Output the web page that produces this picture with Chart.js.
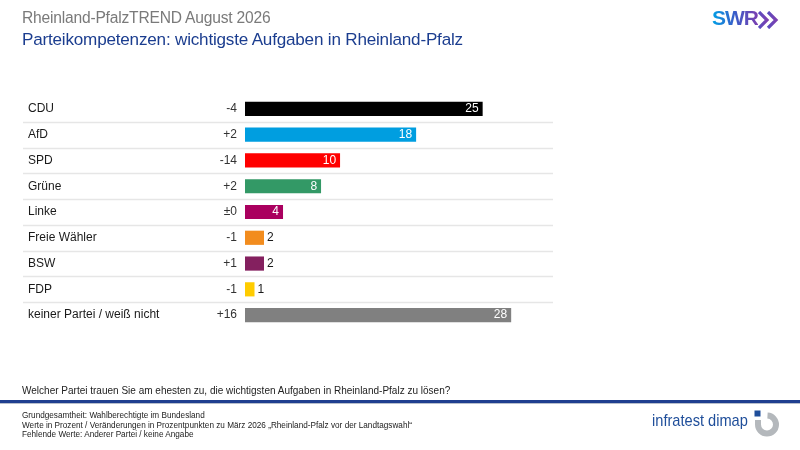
<!DOCTYPE html>
<html lang="de">
<head>
<meta charset="utf-8">
<title>Rheinland-PfalzTREND August 2026</title>
<script src="https://cdn.jsdelivr.net/npm/chart.js@4.4.1/dist/chart.umd.min.js"></script>
<style>
  body { margin: 0; background: #fff; font-family: "Liberation Sans", Arial, sans-serif; }
  #wrap { position: relative; width: 800px; height: 450px; overflow: hidden; }
  #chart { position: absolute; left: 0; top: 0; }
  .abs { position: absolute; white-space: nowrap; }
  .narrow { transform-origin: left center; }
  #title { left: 22px; top: 9px; font-size: 15.6px; color: #7a7a7a; letter-spacing: -0.2px; }
  #subtitle { left: 22px; top: 30px; font-size: 17.1px; color: #1b3d8f; letter-spacing: -0.2px; }
  #question { left: 22px; top: 384px; font-size: 11px; color: #222; transform: scaleX(0.91); }
  #rule { left: 0; top: 400px; width: 800px; height: 3px; background: #1f3f8f; border-bottom: 1px solid #b8bfcc; }
  .note { left: 22px; font-size: 9px; color: #222; transform: scaleX(0.91); }
  #swr { left: 712px; top: 6px; font-size: 21px; font-weight: bold; letter-spacing: -1px;
         background: linear-gradient(90deg, #00a0e6, #3a5cc8 50%, #7b3fb0); -webkit-background-clip: text; background-clip: text; color: transparent; }
  #chev { left: 758px; top: 11px; }
  #infra { left: 652px; top: 411px; font-size: 17px; color: #1f4e9a; transform: scaleX(0.86); }
  #infraIcon { left: 745px; top: 405px; }
</style>
</head>
<body>
<div id="wrap">
  <canvas id="chart" width="800" height="450"></canvas>
  <div class="abs" id="title">Rheinland-PfalzTREND August 2026</div>
  <div class="abs" id="subtitle">Parteikompetenzen: wichtigste Aufgaben in Rheinland-Pfalz</div>
  <div class="abs narrow" id="question">Welcher Partei trauen Sie am ehesten zu, die wichtigsten Aufgaben in Rheinland-Pfalz zu lösen?</div>
  <div class="abs" id="rule"></div>
  <div class="abs note narrow" style="top:410px">Grundgesamtheit: Wahlberechtigte im Bundesland</div>
  <div class="abs note narrow" style="top:420px">Werte in Prozent / Veränderungen in Prozentpunkten zu März 2026 „Rheinland-Pfalz vor der Landtagswahl“</div>
  <div class="abs note narrow" style="top:429px">Fehlende Werte: Anderer Partei / keine Angabe</div>
  <div class="abs" id="swr">SWR</div>
  <svg class="abs" id="chev" width="22" height="18" viewBox="0 0 22 18">
    <defs><linearGradient id="cg" x1="0" x2="1"><stop offset="0" stop-color="#5a4cc0"/><stop offset="1" stop-color="#7b3fb0"/></linearGradient></defs>
    <path d="M1 1 L9 9 L1 17" fill="none" stroke="url(#cg)" stroke-width="3.2"/>
    <path d="M10 1 L18 9 L10 17" fill="none" stroke="url(#cg)" stroke-width="3.2"/>
  </svg>
  <div class="abs narrow" id="infra">infratest dimap</div>
  <svg class="abs" id="infraIcon" width="40" height="36" viewBox="0 0 40 36">
    <path d="M 22.5 10.5 A 9 9 0 1 1 13 19.5 L 13 15" fill="none" stroke="#b4b8bc" stroke-width="6"/>
    <rect x="9.5" y="5.5" width="6" height="6" fill="#1f4e9a"/>
  </svg>
</div>
<script>
// Daten
const parteien = ['CDU', 'AfD', 'SPD', 'Grüne', 'Linke', 'Freie Wähler', 'BSW', 'FDP', 'keiner Partei / weiß nicht'];
const werte = [25, 18, 10, 8, 4, 2, 2, 1, 28];
const veraenderung = ['-4', '+2', '-14', '+2', '±0', '-1', '+1', '-1', '+16'];
const farben = ['#000000', '#009ee0', '#ff0000', '#339966', '#aa005f', '#f28c1e', '#84205f', '#ffcc00', '#808080'];

// Beschriftungen: Parteiname, Veränderung, Wert und Trennlinien
const rowLabels = {
    id: 'rowLabels',
    afterDatasetsDraw(chart) {
        const ctx = chart.ctx;
        const yScale = chart.scales.y;
        const meta = chart.getDatasetMeta(0);
        ctx.save();

        // Trennlinien zwischen den Zeilen
        ctx.strokeStyle = '#e6e6e6';
        ctx.lineWidth = 1.5;
        for (let i = 0; i < parteien.length - 1; i++) {
            const y = Math.round((yScale.getPixelForTick(i) + yScale.getPixelForTick(i + 1)) / 2) + 0.5;
            ctx.beginPath();
            ctx.moveTo(23, y);
            ctx.lineTo(553, y);
            ctx.stroke();
        }

        ctx.textBaseline = 'middle';
        ctx.font = '12px "Liberation Sans", Arial, sans-serif';
        parteien.forEach((name, i) => {
            const y = yScale.getPixelForTick(i);
            ctx.fillStyle = '#1a1a1a';
            ctx.textAlign = 'left';
            ctx.fillText(name, 28, y);

            ctx.fillStyle = '#333';
            ctx.textAlign = 'right';
            ctx.fillText(veraenderung[i], 237, y);

            const bar = meta.data[i];
            if (werte[i] >= 4) {
                ctx.fillStyle = '#ffffff';
                ctx.textAlign = 'right';
                ctx.fillText(werte[i], bar.x - 4, y);
            } else {
                ctx.fillStyle = '#1a1a1a';
                ctx.textAlign = 'left';
                ctx.fillText(werte[i], bar.x + 3, y);
            }
        });
        ctx.restore();
    }
};

new Chart(document.getElementById('chart'), {
    type: 'bar',
    data: {
        labels: parteien,
        datasets: [{
            data: werte,
            backgroundColor: farben,
            borderWidth: 0,
            barPercentage: 0.55,
            categoryPercentage: 1
        }]
    },
    options: {
        indexAxis: 'y',
        responsive: false,
        animation: false,
        layout: {
            padding: { left: 245, right: 247, top: 96, bottom: 122 }
        },
        plugins: {
            legend: { display: false },
            tooltip: { enabled: false }
        },
        scales: {
            x: { display: false, min: 0, max: 32.4 },
            y: { display: false }
        }
    },
    plugins: [rowLabels]
});
</script>
</body>
</html>
